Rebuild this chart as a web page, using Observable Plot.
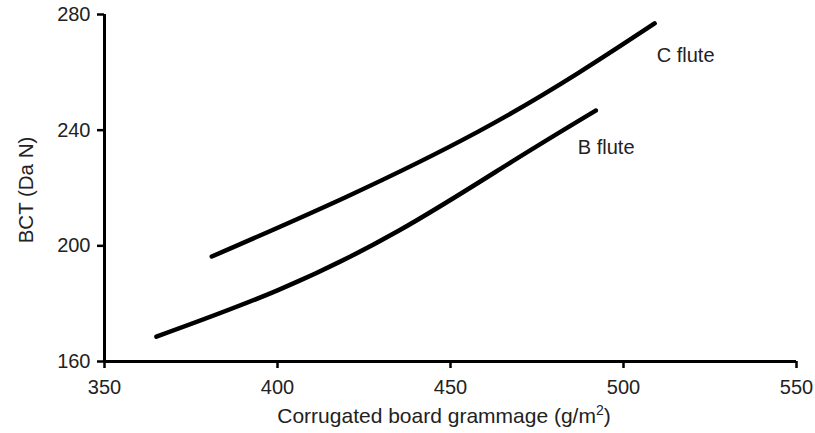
<!DOCTYPE html>
<html><head><meta charset="utf-8">
<script src="https://cdn.jsdelivr.net/npm/d3@7"></script>
<script src="https://cdn.jsdelivr.net/npm/@observablehq/plot@0.6"></script>
<style>body{margin:0;background:#fff;} svg{font-family:"Liberation Sans",Arial,sans-serif;}</style>
</head><body><div id="chart"></div>
<script>
const cGrammage = [381, 420, 458, 487, 509];
const cBCT = [196.3, 217, 239.5, 259.8, 276.9];
const bGrammage = [365, 400, 435, 468, 492];
const bBCT = [168.6, 184.6, 205.2, 229.3, 246.8];
const xTicks = [350, 400, 450, 500, 550];
const yTicks = [160, 200, 240, 280];
const labels = [{text: "C flute", x: 509.6, y: 265.8}, {text: "B flute", x: 486.8, y: 234}];

const cData = cGrammage.map((g, i) => ({x: g, y: cBCT[i]}));
const bData = bGrammage.map((g, i) => ({x: g, y: bBCT[i]}));

const ink = "#000";
const txt = "#222";
const plot = Plot.plot({
  width: 815, height: 433,
  marginLeft: 104, marginRight: 19, marginTop: 14, marginBottom: 72,
  style: {fontSize: "20px", fontFamily: "Liberation Sans, Arial, sans-serif", color: txt, background: "#fff"},
  x: {domain: [350, 550], ticks: xTicks, label: null},
  y: {domain: [160, 280], ticks: yTicks, label: null},
  marks: [
    Plot.axisX({ticks: xTicks, tickSize: 7, tickPadding: 11, stroke: ink, strokeWidth: 2.5, fill: txt, fontSize: 20, label: null}),
    Plot.axisY({ticks: yTicks, tickSize: 7, tickPadding: 7, stroke: ink, strokeWidth: 2.5, fill: txt, fontSize: 20, label: null}),
    Plot.ruleY([160], {stroke: ink, strokeWidth: 3}),
    Plot.ruleX([350], {stroke: ink, strokeWidth: 3}),
    Plot.line(cData, {x: "x", y: "y", curve: "natural", stroke: ink, strokeWidth: 4.5}),
    Plot.line(bData, {x: "x", y: "y", curve: "natural", stroke: ink, strokeWidth: 4.5}),
    Plot.text(labels, {x: "x", y: "y", text: "text", textAnchor: "start", fill: txt, fontSize: 20})
  ]
});
const svg = d3.select(plot);
svg.append("text")
  .attr("transform", "translate(33,190) rotate(-90)")
  .attr("text-anchor", "middle").attr("fill", txt).attr("font-size", 20.5)
  .text("BCT (Da N)");
const xl = svg.append("text")
  .attr("x", 444).attr("y", 423)
  .attr("text-anchor", "middle").attr("fill", txt).attr("font-size", 21);
xl.append("tspan").text("Corrugated board grammage (g/m");
xl.append("tspan").attr("font-size", 14).attr("dy", -8).text("2");
xl.append("tspan").attr("dy", 8).text(")");
document.getElementById("chart").appendChild(plot);
</script>
</body></html>
